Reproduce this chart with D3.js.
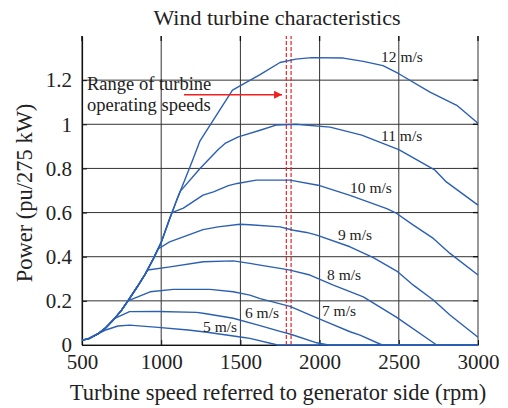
<!DOCTYPE html>
<html>
<head>
<meta charset="utf-8">
<script src="https://cdn.jsdelivr.net/npm/d3@7"></script>
<style>
body { margin: 0; background: #fff; }
svg text { font-family: "Liberation Serif", "Times New Roman", serif; fill: #222; }
</style>
</head>
<body>
<svg id="chart" width="508" height="408"></svg>
<script>
// axis ticks
var rpmTicks = [500, 1000, 1500, 2000, 2500, 3000];
var powerTicks = [0, 0.2, 0.4, 0.6, 0.8, 1, 1.2];

// common rising part that every curve follows before it branches off
var risePart = [[500,0.022],[540,0.028],[600,0.05],[650,0.078],[700,0.115],[750,0.158],[790,0.2],
  [850,0.265],[900,0.322],[950,0.39],[1000,0.465],[1050,0.565],[1100,0.66],[1150,0.75],[1200,0.84]];

// each wind speed after it leaves the rising part (rpm, pu)
var wind5 = [[580,0.042],[650,0.068],[727,0.086],[800,0.09],[980,0.08],[1170,0.068],[1290,0.058],
  [1500,0.036],[1560,0.03],[1735,0],[3000,0]];
var wind6 = [[700,0.118],[800,0.151],[980,0.152],[1224,0.148],[1274,0.143],[1455,0.121],[1624,0.088],
  [1750,0.062],[1813,0.05],[1982,0.01],[2055,0],[3000,0]];
var wind7 = [[790,0.2],[930,0.241],[1076,0.252],[1308,0.252],[1455,0.241],[1560,0.226],[1624,0.21],
  [1813,0.175],[1960,0.13],[2066,0.098],[2192,0.06],[2255,0.045],[2395,0],[3000,0]];
var wind8 = [[915,0.34],[1056,0.354],[1266,0.377],[1455,0.381],[1560,0.37],[1624,0.362],[1750,0.347],
  [1813,0.339],[1939,0.317],[2087,0.271],[2276,0.218],[2487,0.125],[2739,0],[3000,0]];
var wind9 = [[980,0.435],[1053,0.467],[1264,0.523],[1359,0.535],[1497,0.547],[1560,0.545],[1750,0.535],
  [1834,0.52],[1918,0.51],[1982,0.498],[2192,0.445],[2339,0.396],[2487,0.335],[2592,0.271],
  [2718,0.204],[2823,0.136],[3000,0.035]];
var wind10 = [[1068,0.6],[1140,0.62],[1264,0.679],[1330,0.694],[1424,0.722],[1480,0.732],[1600,0.747],
  [1813,0.747],[1990,0.724],[2192,0.678],[2424,0.618],[2487,0.596],[2592,0.543],[2718,0.483],
  [2823,0.415],[3000,0.317]];
var wind11 = [[1120,0.696],[1245,0.8],[1360,0.886],[1403,0.913],[1487,0.943],[1624,0.973],[1730,0.997],
  [1850,1.0],[2066,0.987],[2266,0.951],[2500,0.885],[2729,0.792],[2800,0.739],[3000,0.634]];
var wind12 = [[1245,0.925],[1450,1.155],[1624,1.225],[1750,1.28],[1850,1.295],[1950,1.302],[2150,1.3],
  [2276,1.285],[2400,1.266],[2500,1.229],[2697,1.146],[2866,1.086],[3000,1.005]];

var speedNames = ["5 m/s", "6 m/s", "7 m/s", "8 m/s", "9 m/s", "10 m/s", "11 m/s", "12 m/s"];
// where each speed label sits (rpm, pu)
var speedLabelAt = [[1264,0.059],[1529,0.122],[2015,0.131],[2047,0.295],[2116,0.476],[2192,0.689],[2388,0.924],[2388,1.282]];

// operating speed range (rpm) and the arrow pointing at it
var operatingRange = [1790, 1820];
var arrowFrom = [1144, 1.134], arrowTo = [1763, 1.134];

var svg = d3.select("#chart");
var plotLeft = 82, plotRight = 478, plotTop = 36, plotBottom = 345;

var x = d3.scaleLinear().domain([500, 3000]).range([plotLeft, plotRight]);
var y = d3.scaleLinear().domain([0, 1.4]).range([plotBottom, plotTop]);

// grid
var grid = svg.append("g");
grid.selectAll(".vgrid").data(rpmTicks).enter().append("line")
  .attr("x1", function(d) { return x(d); }).attr("x2", function(d) { return x(d); })
  .attr("y1", y(0)).attr("y2", y(1.4))
  .attr("stroke", "#333").attr("stroke-width", 1);
grid.selectAll(".hgrid").data(powerTicks).enter().append("line")
  .attr("x1", x(500)).attr("x2", x(3000))
  .attr("y1", function(d) { return y(d); }).attr("y2", function(d) { return y(d); })
  .attr("stroke", "#333").attr("stroke-width", 1);

// axes
var yAxis = svg.append("g").attr("transform", "translate(" + plotLeft + ",0)")
  .call(d3.axisLeft(y).tickValues(powerTicks).tickSizeInner(-5).tickSizeOuter(0).tickPadding(10)
    .tickFormat(function(d) { return d3.format("~g")(d); }));
var xAxis = svg.append("g").attr("transform", "translate(0," + plotBottom + ")")
  .call(d3.axisBottom(x).tickValues(rpmTicks).tickSizeInner(-5).tickSizeOuter(0).tickPadding(9)
    .tickFormat(d3.format("d")));
[yAxis, xAxis].forEach(function(a) {
  a.select(".domain").attr("stroke", "#111").attr("stroke-width", 1.2);
  a.selectAll(".tick line").attr("stroke", "#111");
  a.selectAll("text").style("font-size", "21px").attr("fill", "#222");
});
xAxis.selectAll("text").attr("dy", "0.71em");

// small ticks on top and right edges
svg.append("g").selectAll("line").data(rpmTicks).enter().append("line")
  .attr("x1", function(d) { return x(d); }).attr("x2", function(d) { return x(d); })
  .attr("y1", y(1.4)).attr("y2", y(1.4) + 5).attr("stroke", "#111").attr("stroke-width", 1.3);
svg.append("g").selectAll("line").data(powerTicks).enter().append("line")
  .attr("x1", x(3000) - 5).attr("x2", x(3000))
  .attr("y1", function(d) { return y(d); }).attr("y2", function(d) { return y(d); })
  .attr("stroke", "#111").attr("stroke-width", 1.3);

// operating range
svg.append("g").selectAll("line").data(operatingRange).enter().append("line")
  .attr("x1", function(d) { return x(d); }).attr("x2", function(d) { return x(d); })
  .attr("y1", y(0)).attr("y2", y(1.4))
  .attr("stroke", "#f02020").attr("stroke-width", 1.2).attr("stroke-dasharray", "4,2");

// curves
var line = d3.line()
  .x(function(d) { return x(d[0]); })
  .y(function(d) { return y(d[1]); });

var tails = [wind5, wind6, wind7, wind8, wind9, wind10, wind11, wind12];
tails.forEach(function(tail) {
  var pts = risePart.filter(function(p) { return p[0] < tail[0][0]; }).concat(tail);
  svg.append("path").datum(pts)
    .attr("fill", "none").attr("stroke", "#2b5fb4").attr("stroke-width", 1.4)
    .attr("stroke-linejoin", "round")
    .attr("d", line);
});

// speed labels
svg.append("g").selectAll("text").data(speedNames).enter().append("text")
  .attr("x", function(d, i) { return x(speedLabelAt[i][0]); })
  .attr("y", function(d, i) { return y(speedLabelAt[i][1]); })
  .style("font-size", "15.5px")
  .text(function(d) { return d; });

// arrow + annotation
svg.append("defs").append("marker")
  .attr("id", "head").attr("viewBox", "0 0 10 10").attr("refX", 10).attr("refY", 5)
  .attr("markerUnits", "userSpaceOnUse").attr("markerWidth", 13).attr("markerHeight", 8)
  .attr("orient", "auto")
  .append("path").attr("d", "M0,0L10,5L0,10Z").attr("fill", "#f02020");
svg.append("line")
  .attr("x1", x(arrowFrom[0])).attr("y1", y(arrowFrom[1]))
  .attr("x2", x(arrowTo[0])).attr("y2", y(arrowTo[1]))
  .attr("stroke", "#f02020").attr("stroke-width", 1.6)
  .attr("marker-end", "url(#head)");

var note = svg.append("text").attr("x", plotLeft + 5).attr("y", 90).style("font-size", "18.5px");
note.append("tspan").attr("x", plotLeft + 5).text("Range of turbine");
note.append("tspan").attr("x", plotLeft + 5).attr("dy", 21).text("operating speeds");

// titles
svg.append("text").attr("x", 277).attr("y", 25).attr("text-anchor", "middle")
  .style("font-size", "22px").text("Wind turbine characteristics");
svg.append("text").attr("x", 278).attr("y", 400).attr("text-anchor", "middle")
  .style("font-size", "22.5px").text("Turbine speed referred to generator side (rpm)");
svg.append("text").attr("transform", "translate(31.5,193) rotate(-90)").attr("text-anchor", "middle")
  .style("font-size", "22.5px").text("Power (pu/275 kW)");
</script>
</body>
</html>
